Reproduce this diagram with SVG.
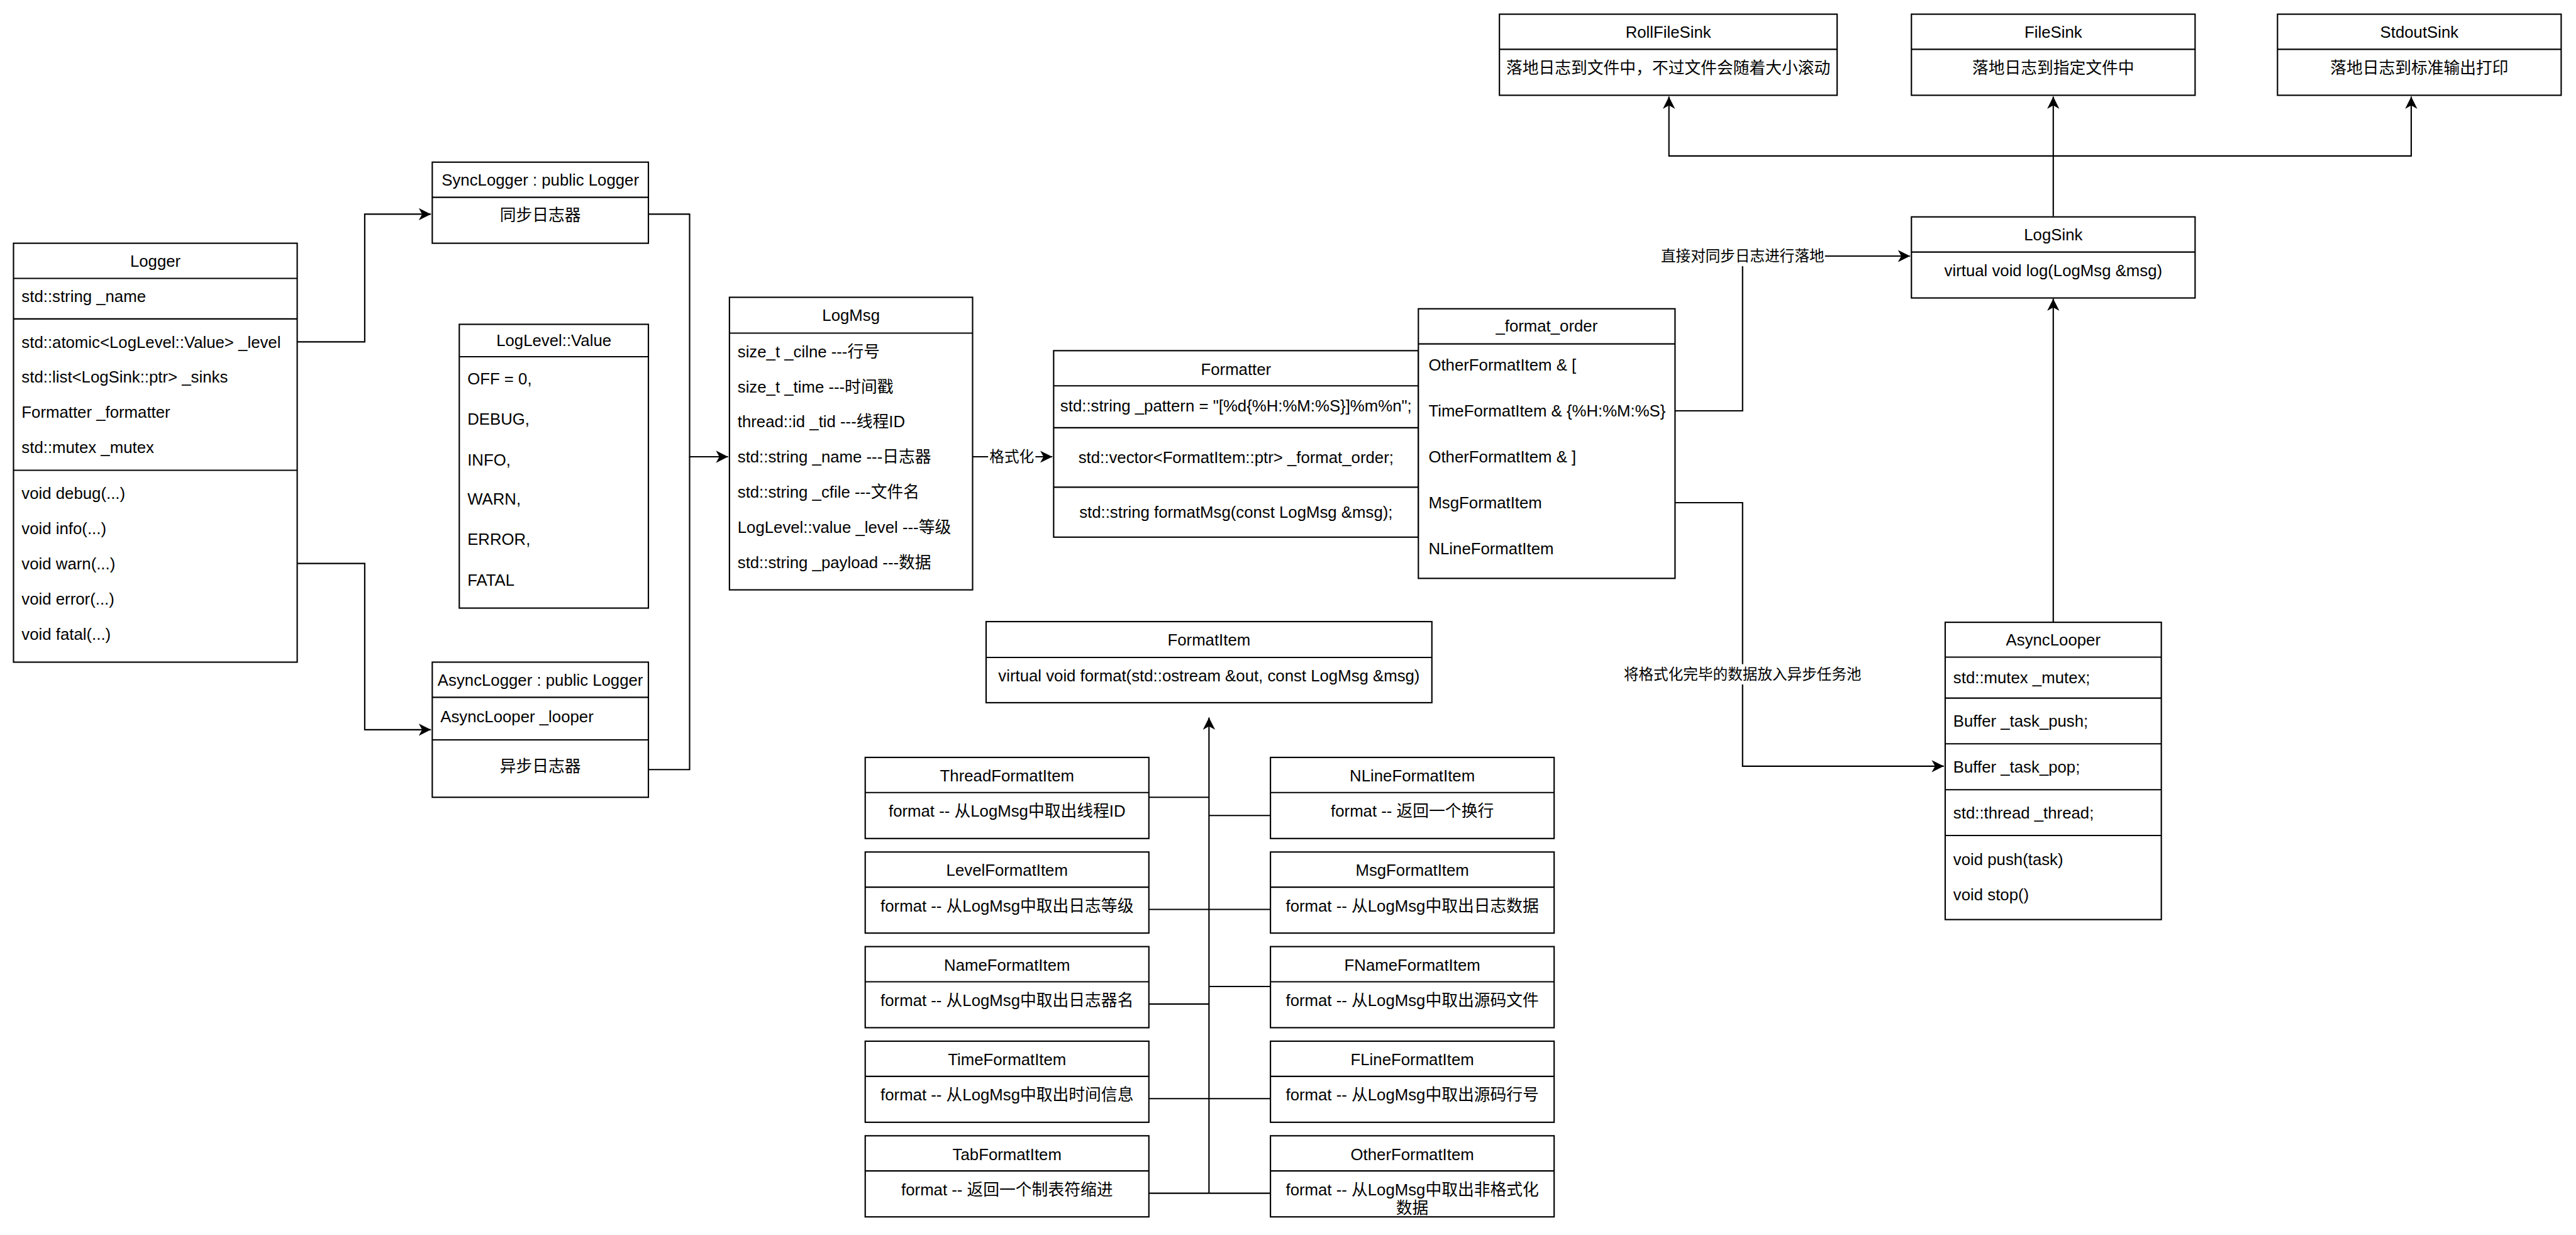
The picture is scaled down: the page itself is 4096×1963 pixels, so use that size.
<svg xmlns="http://www.w3.org/2000/svg" width="4096" height="1963" viewBox="0 0 4096 1963">
<style>
.box{fill:#fff;stroke:#000;stroke-width:1}
.ln{fill:none;stroke:#000;stroke-width:1}
.t{font-family:"Liberation Sans","Noto Sans CJK SC",sans-serif;font-size:12px;fill:#000}
.c{text-anchor:middle}
.lb{font-family:"Liberation Sans","Noto Sans CJK SC",sans-serif;font-size:11px;fill:#000;text-anchor:middle}
.bg{fill:#fff;stroke:none}
</style>
<defs>
<marker id="arr" markerUnits="userSpaceOnUse" markerWidth="10" markerHeight="10" refX="9" refY="4.5" orient="auto">
<path d="M0,0 L9,4.5 L0,9 L2.5,4.5 Z" fill="#000"/>
</marker>
</defs>
<rect width="4096" height="1963" fill="#fff"/>
<g transform="scale(2.1479)">

<g id="connectors">
<path class="ln" d="M220,253 H270 V158.5 H319" marker-end="url(#arr)"/>
<path class="ln" d="M220,417 H270 V540 H319" marker-end="url(#arr)"/>
<path class="ln" d="M480,158.5 H510.5 V338 H539" marker-end="url(#arr)"/>
<path class="ln" d="M480,569.5 H510.5 V338"/>
<path class="ln" d="M720,338 H779" marker-end="url(#arr)"/>
<path class="ln" d="M1240,304 H1290 V189.5 H1414" marker-end="url(#arr)"/>
<path class="ln" d="M1240,372 H1290 V567 H1439" marker-end="url(#arr)"/>
<path class="ln" d="M1520,460 V221" marker-end="url(#arr)"/>
<path class="ln" d="M1520,160 V71.5" marker-end="url(#arr)"/>
<path class="ln" d="M1520,115.4 H1235.5 V71.5" marker-end="url(#arr)"/>
<path class="ln" d="M1520,115.4 H1785 V71.5" marker-end="url(#arr)"/>
<path class="ln" d="M895,883 V531" marker-end="url(#arr)"/>
<path class="ln" d="M850,590 H895 M850,673 H895 M850,743 H895 M850,813 H895 M850,883 H895"/>
<path class="ln" d="M940,603.5 H895 M940,673 H895 M940,730 H895 M940,813 H895 M940,883 H895"/>
<rect class="bg" x="731.5" y="331" width="35" height="14"/>
<text class="lb" x="749" y="341.9">格式化</text>
<rect class="bg" x="1229" y="182" width="122" height="15"/>
<text class="lb" x="1290" y="193.4">直接对同步日志进行落地</text>
<rect class="bg" x="1202" y="491.5" width="176" height="15"/>
<text class="lb" x="1290" y="502.9">将格式化完毕的数据放入异步任务池</text>
</g>

<g id="Logger">
<rect class="box" x="10" y="180" width="210" height="310"/>
<path class="ln" d="M10,206 H220 M10,236 H220 M10,348 H220"/>
<text class="t c" x="115" y="197.3">Logger</text>
<text class="t" x="16" y="223.3">std::string _name</text>
<text class="t" x="16" y="257.3">std::atomic&lt;LogLevel::Value&gt; _level</text>
<text class="t" x="16" y="283.3">std::list&lt;LogSink::ptr&gt; _sinks</text>
<text class="t" x="16" y="309.3">Formatter _formatter</text>
<text class="t" x="16" y="335.3">std::mutex _mutex</text>
<text class="t" x="16" y="369.3">void debug(...)</text>
<text class="t" x="16" y="395.3">void info(...)</text>
<text class="t" x="16" y="421.3">void warn(...)</text>
<text class="t" x="16" y="447.3">void error(...)</text>
<text class="t" x="16" y="473.3">void fatal(...)</text>
</g>

<g id="SyncLogger">
<rect class="box" x="320" y="120" width="160" height="60"/>
<path class="ln" d="M320,146 H480"/>
<text class="t c" x="400" y="137.3">SyncLogger : public Logger</text>
<text class="t c" x="400" y="163.3">同步日志器</text>
</g>

<g id="LogLevelValue">
<rect class="box" x="340" y="240" width="140" height="210"/>
<path class="ln" d="M340,264 H480"/>
<text class="t c" x="410" y="256.3">LogLevel::Value</text>
<text class="t" x="346" y="284.3">OFF = 0,</text>
<text class="t" x="346" y="314.3">DEBUG,</text>
<text class="t" x="346" y="344.3">INFO,</text>
<text class="t" x="346" y="373.3">WARN,</text>
<text class="t" x="346" y="403.3">ERROR,</text>
<text class="t" x="346" y="433.3">FATAL</text>
</g>

<g id="AsyncLogger">
<rect class="box" x="320" y="490" width="160" height="100"/>
<path class="ln" d="M320,516 H480 M320,547.5 H480"/>
<text class="t c" x="400" y="507.3">AsyncLogger : public Logger</text>
<text class="t" x="326" y="534.3">AsyncLooper _looper</text>
<text class="t c" x="400" y="571.3">异步日志器</text>
</g>

<g id="LogMsg">
<rect class="box" x="540" y="220" width="180" height="216.5"/>
<path class="ln" d="M540,246.5 H720"/>
<text class="t c" x="630" y="237.3">LogMsg</text>
<text class="t" x="546" y="264.3">size_t _cilne ---行号</text>
<text class="t" x="546" y="290.3">size_t _time ---时间戳</text>
<text class="t" x="546" y="316.3">thread::id _tid ---线程ID</text>
<text class="t" x="546" y="342.3">std::string _name ---日志器</text>
<text class="t" x="546" y="368.3">std::string _cfile ---文件名</text>
<text class="t" x="546" y="394.3">LogLevel::value _level ---等级</text>
<text class="t" x="546" y="420.3">std::string _payload ---数据</text>
</g>

<g id="Formatter">
<rect class="box" x="780" y="259.5" width="270" height="138"/>
<path class="ln" d="M780,285.5 H1050 M780,316.5 H1050 M780,360.5 H1050"/>
<text class="t c" x="915" y="277.3">Formatter</text>
<text class="t c" x="915" y="304.5">std::string _pattern = "[%d{%H:%M:%S}]%m%n";</text>
<text class="t c" x="915" y="342.5">std::vector&lt;FormatItem::ptr&gt; _format_order;</text>
<text class="t c" x="915" y="383.2">std::string formatMsg(const LogMsg &amp;msg);</text>
</g>

<g id="format_order">
<rect class="box" x="1050" y="228.5" width="190" height="199.5"/>
<path class="ln" d="M1050,254.5 H1240"/>
<text class="t c" x="1145" y="245.5">_format_order</text>
<text class="t" x="1057.5" y="274.3">OtherFormatItem &amp; [</text>
<text class="t" x="1057.5" y="308.3">TimeFormatItem &amp; {%H:%M:%S}</text>
<text class="t" x="1057.5" y="342.3">OtherFormatItem &amp; ]</text>
<text class="t" x="1057.5" y="376.3">MsgFormatItem</text>
<text class="t" x="1057.5" y="410.3">NLineFormatItem</text>
</g>

<g id="LogSink">
<rect class="box" x="1415" y="160.5" width="210" height="60"/>
<path class="ln" d="M1415,186.5 H1625"/>
<text class="t c" x="1520" y="177.8">LogSink</text>
<text class="t c" x="1520" y="204.3">virtual void log(LogMsg &amp;msg)</text>
</g>

<g id="RollFileSink">
<rect class="box" x="1110" y="10.5" width="250" height="60"/>
<path class="ln" d="M1110,36.5 H1360"/>
<text class="t c" x="1235" y="27.8">RollFileSink</text>
<text class="t c" x="1235" y="54.3">落地日志到文件中，不过文件会随着大小滚动</text>
</g>

<g id="FileSink">
<rect class="box" x="1415" y="10.5" width="210" height="60"/>
<path class="ln" d="M1415,36.5 H1625"/>
<text class="t c" x="1520" y="27.8">FileSink</text>
<text class="t c" x="1520" y="54.3">落地日志到指定文件中</text>
</g>

<g id="StdoutSink">
<rect class="box" x="1686" y="10.5" width="210" height="60"/>
<path class="ln" d="M1686,36.5 H1896"/>
<text class="t c" x="1791" y="27.8">StdoutSink</text>
<text class="t c" x="1791" y="54.3">落地日志到标准输出打印</text>
</g>

<g id="AsyncLooper">
<rect class="box" x="1440" y="460.5" width="160" height="220"/>
<path class="ln" d="M1440,486.3 H1600 M1440,516.6 H1600 M1440,550.4 H1600 M1440,584.4 H1600 M1440,618.3 H1600"/>
<text class="t c" x="1520" y="477.6">AsyncLooper</text>
<text class="t" x="1446" y="505.5">std::mutex _mutex;</text>
<text class="t" x="1446" y="537.8">Buffer _task_push;</text>
<text class="t" x="1446" y="571.8">Buffer _task_pop;</text>
<text class="t" x="1446" y="605.8">std::thread _thread;</text>
<text class="t" x="1446" y="640.3">void push(task)</text>
<text class="t" x="1446" y="666.3">void stop()</text>
</g>

<g id="FormatItem">
<rect class="box" x="730" y="460" width="330" height="60"/>
<path class="ln" d="M730,486.5 H1060"/>
<text class="t c" x="895" y="477.5">FormatItem</text>
<text class="t c" x="895" y="504.3">virtual void format(std::ostream &amp;out, const LogMsg &amp;msg)</text>
</g>

<g id="ThreadFormatItem">
<rect class="box" x="640.5" y="560.5" width="210" height="60"/>
<path class="ln" d="M640.5,586.5 H850.5"/>
<text class="t c" x="745.5" y="578.3">ThreadFormatItem</text>
<text class="t c" x="745.5" y="604.5">format -- 从LogMsg中取出线程ID</text>
</g>
<g id="LevelFormatItem">
<rect class="box" x="640.5" y="630.5" width="210" height="60"/>
<path class="ln" d="M640.5,656.5 H850.5"/>
<text class="t c" x="745.5" y="648.3">LevelFormatItem</text>
<text class="t c" x="745.5" y="674.5">format -- 从LogMsg中取出日志等级</text>
</g>
<g id="NameFormatItem">
<rect class="box" x="640.5" y="700.5" width="210" height="60"/>
<path class="ln" d="M640.5,726.5 H850.5"/>
<text class="t c" x="745.5" y="718.3">NameFormatItem</text>
<text class="t c" x="745.5" y="744.5">format -- 从LogMsg中取出日志器名</text>
</g>
<g id="TimeFormatItem">
<rect class="box" x="640.5" y="770.5" width="210" height="60"/>
<path class="ln" d="M640.5,796.5 H850.5"/>
<text class="t c" x="745.5" y="788.3">TimeFormatItem</text>
<text class="t c" x="745.5" y="814.5">format -- 从LogMsg中取出时间信息</text>
</g>
<g id="TabFormatItem">
<rect class="box" x="640.5" y="840.5" width="210" height="60"/>
<path class="ln" d="M640.5,866.5 H850.5"/>
<text class="t c" x="745.5" y="858.3">TabFormatItem</text>
<text class="t c" x="745.5" y="884.5">format -- 返回一个制表符缩进</text>
</g>

<g id="NLineFormatItem">
<rect class="box" x="940.5" y="560.5" width="210" height="60"/>
<path class="ln" d="M940.5,586.5 H1150.5"/>
<text class="t c" x="1045.5" y="578.3">NLineFormatItem</text>
<text class="t c" x="1045.5" y="604.5">format -- 返回一个换行</text>
</g>
<g id="MsgFormatItem">
<rect class="box" x="940.5" y="630.5" width="210" height="60"/>
<path class="ln" d="M940.5,656.5 H1150.5"/>
<text class="t c" x="1045.5" y="648.3">MsgFormatItem</text>
<text class="t c" x="1045.5" y="674.5">format -- 从LogMsg中取出日志数据</text>
</g>
<g id="FNameFormatItem">
<rect class="box" x="940.5" y="700.5" width="210" height="60"/>
<path class="ln" d="M940.5,726.5 H1150.5"/>
<text class="t c" x="1045.5" y="718.3">FNameFormatItem</text>
<text class="t c" x="1045.5" y="744.5">format -- 从LogMsg中取出源码文件</text>
</g>
<g id="FLineFormatItem">
<rect class="box" x="940.5" y="770.5" width="210" height="60"/>
<path class="ln" d="M940.5,796.5 H1150.5"/>
<text class="t c" x="1045.5" y="788.3">FLineFormatItem</text>
<text class="t c" x="1045.5" y="814.5">format -- 从LogMsg中取出源码行号</text>
</g>
<g id="OtherFormatItem">
<rect class="box" x="940.5" y="840.5" width="210" height="60"/>
<path class="ln" d="M940.5,866.5 H1150.5"/>
<text class="t c" x="1045.5" y="858.3">OtherFormatItem</text>
<text class="t c" x="1045.5" y="884.5">format -- 从LogMsg中取出非格式化</text>
<text class="t c" x="1045.5" y="898">数据</text>
</g>

</g>
</svg>
